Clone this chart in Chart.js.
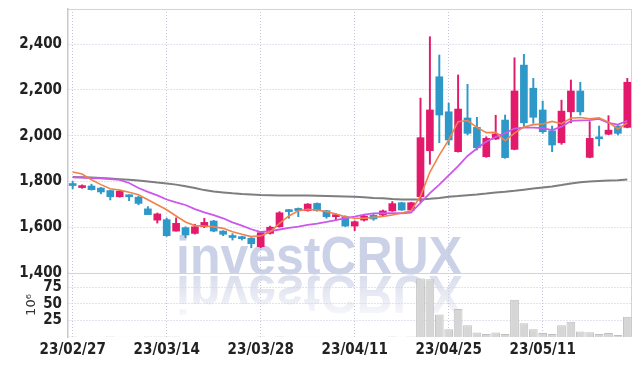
<!DOCTYPE html>
<html>
<head>
<meta charset="utf-8">
<script src="https://cdn.jsdelivr.net/npm/chart.js@4/dist/chart.umd.min.js"></script>
<style>
  html, body { margin: 0; padding: 0; background: #fff; }
  #wrap { width: 642px; height: 366px; }
</style>
</head>
<body>
<div id="wrap"><canvas id="chart" width="642" height="366"></canvas></div>
<script>
const dates = [
  "23/02/27", "23/02/28",
  "23/03/02", "23/03/03", "23/03/06", "23/03/07", "23/03/08", "23/03/09", "23/03/10",
  "23/03/13", "23/03/14", "23/03/15", "23/03/16", "23/03/17", "23/03/20", "23/03/21",
  "23/03/22", "23/03/23", "23/03/24", "23/03/27", "23/03/28", "23/03/29", "23/03/30", "23/03/31",
  "23/04/03", "23/04/04", "23/04/05", "23/04/06", "23/04/07", "23/04/10", "23/04/11",
  "23/04/12", "23/04/13", "23/04/14", "23/04/17", "23/04/18", "23/04/19", "23/04/20",
  "23/04/21", "23/04/24", "23/04/25", "23/04/26", "23/04/27", "23/04/28",
  "23/05/02", "23/05/03", "23/05/04", "23/05/08", "23/05/09", "23/05/10", "23/05/11",
  "23/05/12", "23/05/15", "23/05/16", "23/05/17", "23/05/18", "23/05/19", "23/05/22",
  "23/05/23", "23/05/24",
];

const openVals = [
  1785, 1773, 1780, 1771, 1760, 1733, 1736, 1731, 1680, 1631,
  1633, 1583, 1598, 1573, 1602, 1627, 1583, 1563, 1556, 1552,
  1515, 1573, 1602, 1673, 1682, 1672, 1704, 1672, 1646, 1646,
  1605, 1631, 1652, 1653, 1671, 1707, 1675, 1733, 1934, 2257,
  2104, 1930, 2077, 2036, 1908, 1985, 2068, 1940, 2308, 2207,
  2112, 2021, 1969, 2104, 2195, 1905, 1991, 2006, 2042, 2036,
];
const highVals = [
  1800, 1785, 1788, 1774, 1762, 1762, 1742, 1736, 1690, 1662,
  1640, 1641, 1602, 1613, 1639, 1630, 1585, 1572, 1561, 1555,
  1580, 1605, 1668, 1678, 1684, 1703, 1706, 1674, 1659, 1650,
  1628, 1655, 1660, 1675, 1712, 1709, 1709, 2164, 2432, 2352,
  2142, 2265, 2224, 2080, 1995, 2089, 2090, 2340, 2355, 2250,
  2151, 2042, 2155, 2243, 2233, 2061, 2042, 2087, 2044, 2250,
];
const lowVals = [
  1768, 1770, 1762, 1746, 1719, 1731, 1716, 1698, 1655, 1618,
  1560, 1583, 1554, 1570, 1598, 1580, 1563, 1544, 1544, 1510,
  1510, 1570, 1600, 1639, 1646, 1670, 1670, 1639, 1633, 1603,
  1585, 1627, 1630, 1650, 1669, 1673, 1673, 1711, 1875, 1969,
  1959, 1928, 2003, 1937, 1905, 1983, 1901, 1938, 2039, 2054,
  2010, 1930, 1962, 2056, 2090, 1903, 1955, 2004, 2003, 2034,
];
const closeVals = [
  1782, 1776, 1764, 1754, 1733, 1757, 1733, 1704, 1655, 1658,
  1563, 1617, 1566, 1602, 1621, 1583, 1569, 1555, 1550, 1528,
  1576, 1600, 1663, 1668, 1672, 1701, 1672, 1646, 1653, 1605,
  1624, 1649, 1636, 1671, 1703, 1675, 1707, 1991, 2112, 2090,
  1981, 2116, 2010, 1947, 1988, 2007, 1904, 2195, 2056, 2080,
  2017, 1959, 2107, 2195, 2104, 1988, 1986, 2024, 2010, 2233,
];
// volume in millions
const volumes = [
  0.6, 0.4, 0.5, 0.4, 0.6, 0.5, 0.4, 0.5, 0.7, 0.6,
  0.9, 0.6, 0.5, 0.4, 0.5, 0.5, 0.4, 0.3, 0.3, 0.5,
  0.8, 0.5, 0.7, 0.5, 0.4, 0.5, 0.5, 0.4, 0.3, 0.5,
  0.4, 0.3, 0.3, 0.4, 0.6, 0.5, 0.6, 87.8, 86.8, 33.8,
  11.8, 42, 17.6, 6.9, 4.4, 6.9, 4.4, 55.9, 20.6, 11.8,
  5.9, 4.4, 17.6, 23, 8.4, 7, 4.4, 5.9, 2.9, 30.4,
];
const ma5 = [
  1841, 1832, 1807, 1786, 1768, 1762, 1753, 1742, 1720, 1698,
  1676, 1649, 1623, 1607, 1605, 1602, 1595, 1580, 1569, 1559,
  1562, 1580, 1617, 1649, 1672, 1678, 1675, 1668, 1658, 1646,
  1639, 1639, 1643, 1647, 1653, 1662, 1672, 1736, 1841, 1915,
  1981, 2061, 2066, 2036, 2013, 2014, 1978, 2011, 2038, 2048,
  2051, 2062, 2052, 2076, 2079, 2073, 2078, 2059, 2029, 2056,
];
const ma20 = [
  1818, 1817, 1815, 1813, 1810, 1807, 1793, 1771, 1754, 1739,
  1721, 1708, 1697, 1679, 1665, 1653, 1639, 1621, 1607, 1591,
  1579, 1583, 1590, 1597, 1603, 1610, 1616, 1623, 1631, 1640,
  1646, 1655, 1660, 1661, 1661, 1661, 1664, 1706, 1749, 1786,
  1826, 1867, 1911, 1944, 1974, 1994, 2011, 2031, 2035, 2035,
  2033, 2024, 2039, 2064, 2067, 2068, 2073, 2056, 2048, 2065,
];
const ma60 = [
  1819, 1818, 1817, 1815, 1813, 1810, 1807, 1804, 1800, 1795,
  1791, 1786, 1779, 1771, 1762, 1756, 1752, 1748, 1745, 1743,
  1741, 1740, 1739, 1738, 1738, 1738, 1737, 1736, 1735, 1734,
  1733, 1731, 1728, 1726, 1723, 1721, 1721, 1721, 1724, 1728,
  1733, 1736, 1740, 1743, 1747, 1752, 1755, 1759, 1764, 1769,
  1773, 1778, 1784, 1791, 1796, 1800, 1802, 1804, 1805, 1808,
];

const priceTicks = [1400, 1600, 1800, 2000, 2200, 2400];
const volTicks = [25, 50, 75];

const UP = "#e3196b";
const DOWN = "#2e98c8";
const GRID = "#c6c6da";
const candleColors = openVals.map((o, i) => (closeVals[i] >= o ? UP : DOWN));

const tickFont = { family: "'Liberation Sans Narrow', 'DejaVu Sans Condensed', sans-serif", weight: "bold", size: 15 };

const fitLeft = (s) => {
  s.width = 68;
  s.paddingTop = 0;
  s.paddingBottom = 0;
};

const watermark = {
  id: "watermark",
  beforeDatasetsDraw(chart) {
    const { ctx } = chart;
    const text = "investCRUX";
    const left = 176, width = 286, base = 274;
    ctx.save();
    ctx.font = "bold 54px 'Liberation Sans Narrow', sans-serif";
    const sx = width / ctx.measureText(text).width;
    ctx.textBaseline = "alphabetic";
    // reflection
    ctx.save();
    ctx.translate(left, base + 2);
    ctx.scale(sx, -1);
    const g = ctx.createLinearGradient(0, 0, 0, -44);
    g.addColorStop(0, "rgba(205,210,230,0.75)");
    g.addColorStop(1, "rgba(205,210,230,0.1)");
    ctx.fillStyle = g;
    ctx.fillText(text, 0, 0);
    ctx.restore();
    // main text
    ctx.translate(left, base);
    ctx.scale(sx, 1);
    ctx.fillStyle = "rgba(190,197,224,0.8)";
    ctx.fillText(text, 0, 0);
    ctx.restore();

    // frame lines
    const a = chart.chartArea;
    const split = chart.scales.y.bottom;
    ctx.save();
    ctx.strokeStyle = "#d2d2da";
    ctx.lineWidth = 1;
    ctx.beginPath();
    ctx.moveTo(a.left, a.top + 0.5);
    ctx.lineTo(a.right, a.top + 0.5);
    ctx.moveTo(a.right - 0.5, a.top);
    ctx.lineTo(a.right - 0.5, a.bottom);
    ctx.moveTo(a.left, Math.round(split) + 0.5);
    ctx.lineTo(a.right, Math.round(split) + 0.5);
    ctx.stroke();
    ctx.restore();
  },
};

new Chart(document.getElementById("chart"), {
  data: {
    labels: dates,
    datasets: [
      {
        type: "line", label: "MA5", data: ma5, yAxisID: "y",
        borderColor: "#f0834b", borderWidth: 1.6, pointRadius: 0, tension: 0, order: 0,
      },
      {
        type: "line", label: "MA20", data: ma20, yAxisID: "y",
        borderColor: "#cb58ea", borderWidth: 1.8, pointRadius: 0, tension: 0, order: 0,
      },
      {
        type: "line", label: "MA60", data: ma60, yAxisID: "y",
        borderColor: "#7e7e7e", borderWidth: 2, pointRadius: 0, tension: 0, order: 0,
      },
      {
        type: "bar", label: "body", yAxisID: "y", grouped: false,
        data: openVals.map((o, i) => [o, closeVals[i]]),
        backgroundColor: candleColors, barThickness: 7, minBarLength: 2, order: 1,
      },
      {
        type: "bar", label: "wick", yAxisID: "y", grouped: false,
        data: lowVals.map((l, i) => [l, highVals[i]]),
        backgroundColor: candleColors, barThickness: 1.3, order: 2,
      },
      {
        type: "bar", label: "volume", yAxisID: "yVol", grouped: false,
        data: volumes,
        backgroundColor: "#d6d6d6", borderColor: "#bfbfbf", borderWidth: 1,
        barPercentage: 0.93, categoryPercentage: 1, order: 3,
      },
    ],
  },
  options: {
    responsive: false,
    animation: false,
    devicePixelRatio: 1,
    layout: { padding: { top: 9, right: 10, left: 0, bottom: 0 } },
    plugins: { legend: { display: false }, tooltip: { enabled: false } },
    scales: {
      x: {
        type: "category",
        offset: true,
        grid: { offset: false, color: GRID, drawTicks: false },
        border: { display: false, dash: [1, 2] },
        ticks: { autoSkip: false, maxRotation: 0, padding: 4, color: "#222", font: tickFont },
        afterBuildTicks: (s) => { s.ticks = s.ticks.filter((t) => t.value % 10 === 0); },
        afterFit: (s) => { s.height = 29; },
      },
      yVol: {
        type: "linear",
        position: "left",
        stack: "panes",
        stackWeight: 64,
        min: 0,
        max: 96,
        grid: { color: GRID, drawTicks: false },
        border: { color: "#c8c8d2", width: 1.5, dash: [1, 2] },
        ticks: { autoSkip: false, padding: 6, color: "#222", font: tickFont },
        title: {
          display: true, text: "10\u2076", color: "#333",
          font: { family: "'DejaVu Sans', sans-serif", size: 13 },
          padding: { top: 24, bottom: 0 },
        },
        afterBuildTicks: (s) => { s.ticks = volTicks.map((v) => ({ value: v })); },
        afterFit: fitLeft,
      },
      y: {
        type: "linear",
        position: "left",
        stack: "panes",
        stackWeight: 264,
        min: 1400,
        max: 2553,
        grid: {
          color: (c) => (c.tick && c.tick.value === 1400 ? "rgba(0,0,0,0)" : GRID),
          drawTicks: false,
        },
        border: { color: "#c8c8d2", width: 1.5, dash: [1, 2] },
        ticks: {
          autoSkip: false, padding: 6, color: "#222", font: tickFont,
          callback: (v) => Number(v).toLocaleString("en-US"),
        },
        afterBuildTicks: (s) => { s.ticks = priceTicks.map((v) => ({ value: v })); },
        afterFit: fitLeft,
      },
    },
  },
  plugins: [watermark],
});
</script>
</body>
</html>
